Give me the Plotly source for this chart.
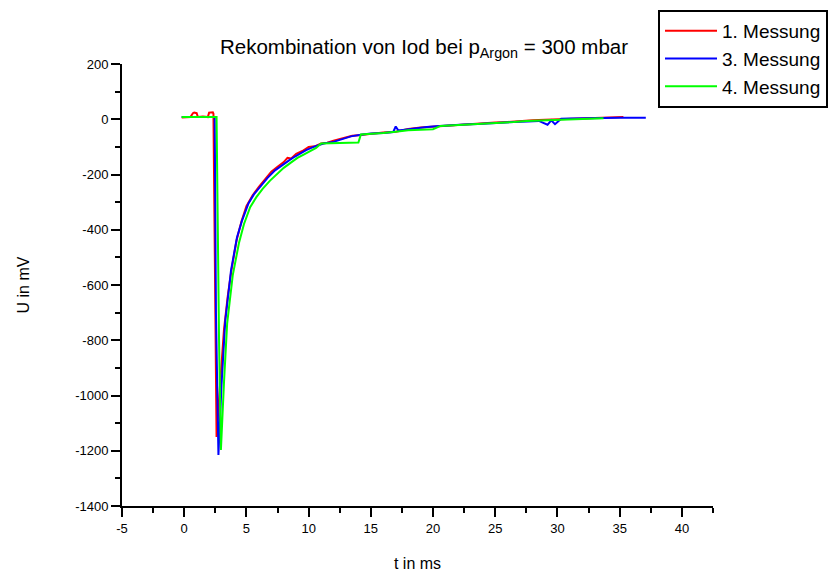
import plotly.graph_objects as go

# ---- data ----
t_m1 = [-0.2, 0.5, 0.7, 0.8, 1.0, 1.1, 1.5, 1.9, 2.0, 2.3, 2.35, 2.6, 2.9, 3.2, 3.5, 3.8,
        4.2, 4.6, 5.0, 5.5, 6.0, 6.5, 7.0, 7.5, 8.0, 8.3, 8.6, 9.0, 9.5, 10.0, 10.5, 11.0,
        11.5, 12.0, 13.0, 13.5, 14.0, 15.0, 16.0, 17.0, 18.0, 19.0, 20.0, 21.0, 22.0, 23.0,
        24.0, 25.0, 26.0, 27.0, 28.0, 29.0, 30.0, 31.0, 32.0, 33.0, 34.0, 35.3]
u_m1 = [6, 8, 22, 24, 22, 8, 10, 8, 24, 25, 20, -1150, -950, -760, -640, -545,
        -440, -370, -315, -275, -245, -218, -190, -172, -155, -140, -142, -125, -115, -100, -98, -88,
        -85, -78, -65, -60, -58, -52, -48, -45, -35, -30, -27, -22, -20, -17,
        -15, -12, -10, -6, -4, -2, 0, 2, 3, 4, 6, 8]

t_m3 = [-0.2, 1.0, 2.0, 2.45, 2.55, 2.75, 3.0, 3.3, 3.76, 4.24, 4.64, 5.15, 5.6, 6.1, 6.7,
        7.3, 7.8, 8.4, 8.9, 9.3, 9.8, 10.4, 11.2, 12.0, 12.7, 13.4, 14.2, 15.0, 16.0, 16.8,
        17.0, 17.2, 17.4, 18.0, 18.8, 19.5, 20.5, 21.4, 22.5, 23.6, 24.5, 25.5, 26.5, 27.6,
        28.5, 29.2, 29.5, 29.8, 30.3, 31.0, 32.0, 33.0, 34.0, 35.0, 36.0, 37.1]
u_m3 = [8, 8, 8, 8, -700, -1215, -960, -730, -548, -428, -368, -306, -272, -245, -212,
        -185, -168, -150, -135, -124, -112, -100, -88, -82, -72, -62, -56, -52, -50, -46,
        -26, -40, -40, -36, -31, -28, -24, -21, -19, -17, -14, -12, -10, -8,
        -6, -20, -4, -18, 2, 3, 4, 4, 4, 5, 5, 5]

t_m4 = [-0.2, 1.0, 2.0, 2.6, 2.8, 2.95, 3.2, 3.45, 3.9, 4.4, 4.8, 5.3, 5.8, 6.3, 6.9, 7.5,
        8.0, 8.6, 9.1, 9.6, 10.1, 10.6, 11.0, 12.0, 13.0, 14.0, 14.2, 15.0, 16.0, 17.0, 18.0,
        19.0, 20.0, 20.6, 21.5, 22.5, 23.5, 24.5, 25.5, 26.5, 27.5, 28.5, 29.5, 30.5, 31.5,
        32.5, 33.7]
u_m4 = [8, 8, 8, 8, -800, -1197, -950, -740, -565, -448, -380, -318, -282, -252, -222, -195,
        -176, -156, -140, -128, -116, -104, -88, -86, -85, -84, -55, -53, -50, -45, -40,
        -38, -36, -24, -22, -20, -18, -16, -14, -10, -6, -4, -2, 0, 2,
        3, 4]

series_names = ["1. Messung", "3. Messung", "4. Messung"]
series_colors = ["#FF0000", "#0000FF", "#00FF00"]
x_ticks = [-5, 0, 5, 10, 15, 20, 25, 30, 35, 40]
y_ticks = [200, 0, -200, -400, -600, -800, -1000, -1200, -1400]

FONT = "Liberation Sans, Arial, sans-serif"

# the page body adds an 8 px offset; the figure is sized so it fills the window
W, H, OFF = 831, 569, 8

fig = go.Figure()
for t, u, name, col in zip([t_m1, t_m3, t_m4], [u_m1, u_m3, u_m4], series_names, series_colors):
    fig.add_trace(go.Scatter(x=t, y=u, mode="lines", name=name,
                             line=dict(color=col, width=2, shape="linear")))

fig.update_layout(
    width=W, height=H,
    paper_bgcolor="white", plot_bgcolor="white",
    margin=dict(l=122 - OFF, r=126, t=64 - OFF, b=71, autoexpand=False),
    font=dict(family=FONT, size=13, color="black"),
    title=dict(text="Rekombination von Iod bei p<sub>Argon</sub> = 300 mbar",
               x=(424 - OFF) / W, xref="container", y=1 - (47 - OFF) / H, yref="container",
               xanchor="center", yanchor="middle", automargin=False,
               font=dict(family=FONT, size=20.5, color="black")),
    showlegend=True,
    legend=dict(x=(658 - OFF) / W, y=1 - (10 - OFF) / H, xref="container", yref="container",
                xanchor="left", yanchor="top",
                bordercolor="black", borderwidth=2, bgcolor="white",
                font=dict(family=FONT, size=19, color="black"),
                itemwidth=52, tracegroupgap=0),
    xaxis=dict(range=[-5, 42.5], tickmode="array", tickvals=x_ticks,
               ticktext=[str(v) for v in x_ticks], automargin=False,
               showgrid=False, zeroline=False, showline=True, linecolor="black",
               linewidth=2, ticks="outside", ticklen=9, tickwidth=2, tickcolor="black",
               minor=dict(ticks="outside", ticklen=5, dtick=2.5, tick0=0, tickcolor="black",
                          tickwidth=2, showgrid=False),
               title=dict(text="t in ms", font=dict(family=FONT, size=16), standoff=23),
               tickfont=dict(family=FONT, size=13)),
    yaxis=dict(range=[-1400, 200], tickmode="array", tickvals=y_ticks,
               ticktext=[str(v) for v in y_ticks], automargin=False,
               showgrid=False, zeroline=False, showline=True, linecolor="black",
               linewidth=2, ticks="outside", ticklen=9, tickwidth=2, tickcolor="black",
               minor=dict(ticks="outside", ticklen=5, dtick=100, tick0=0, tickcolor="black",
                          tickwidth=2, showgrid=False),
               title=dict(text="U in mV", font=dict(family=FONT, size=16), standoff=42),
               tickfont=dict(family=FONT, size=13)),
)

fig.write_html("out.html")
